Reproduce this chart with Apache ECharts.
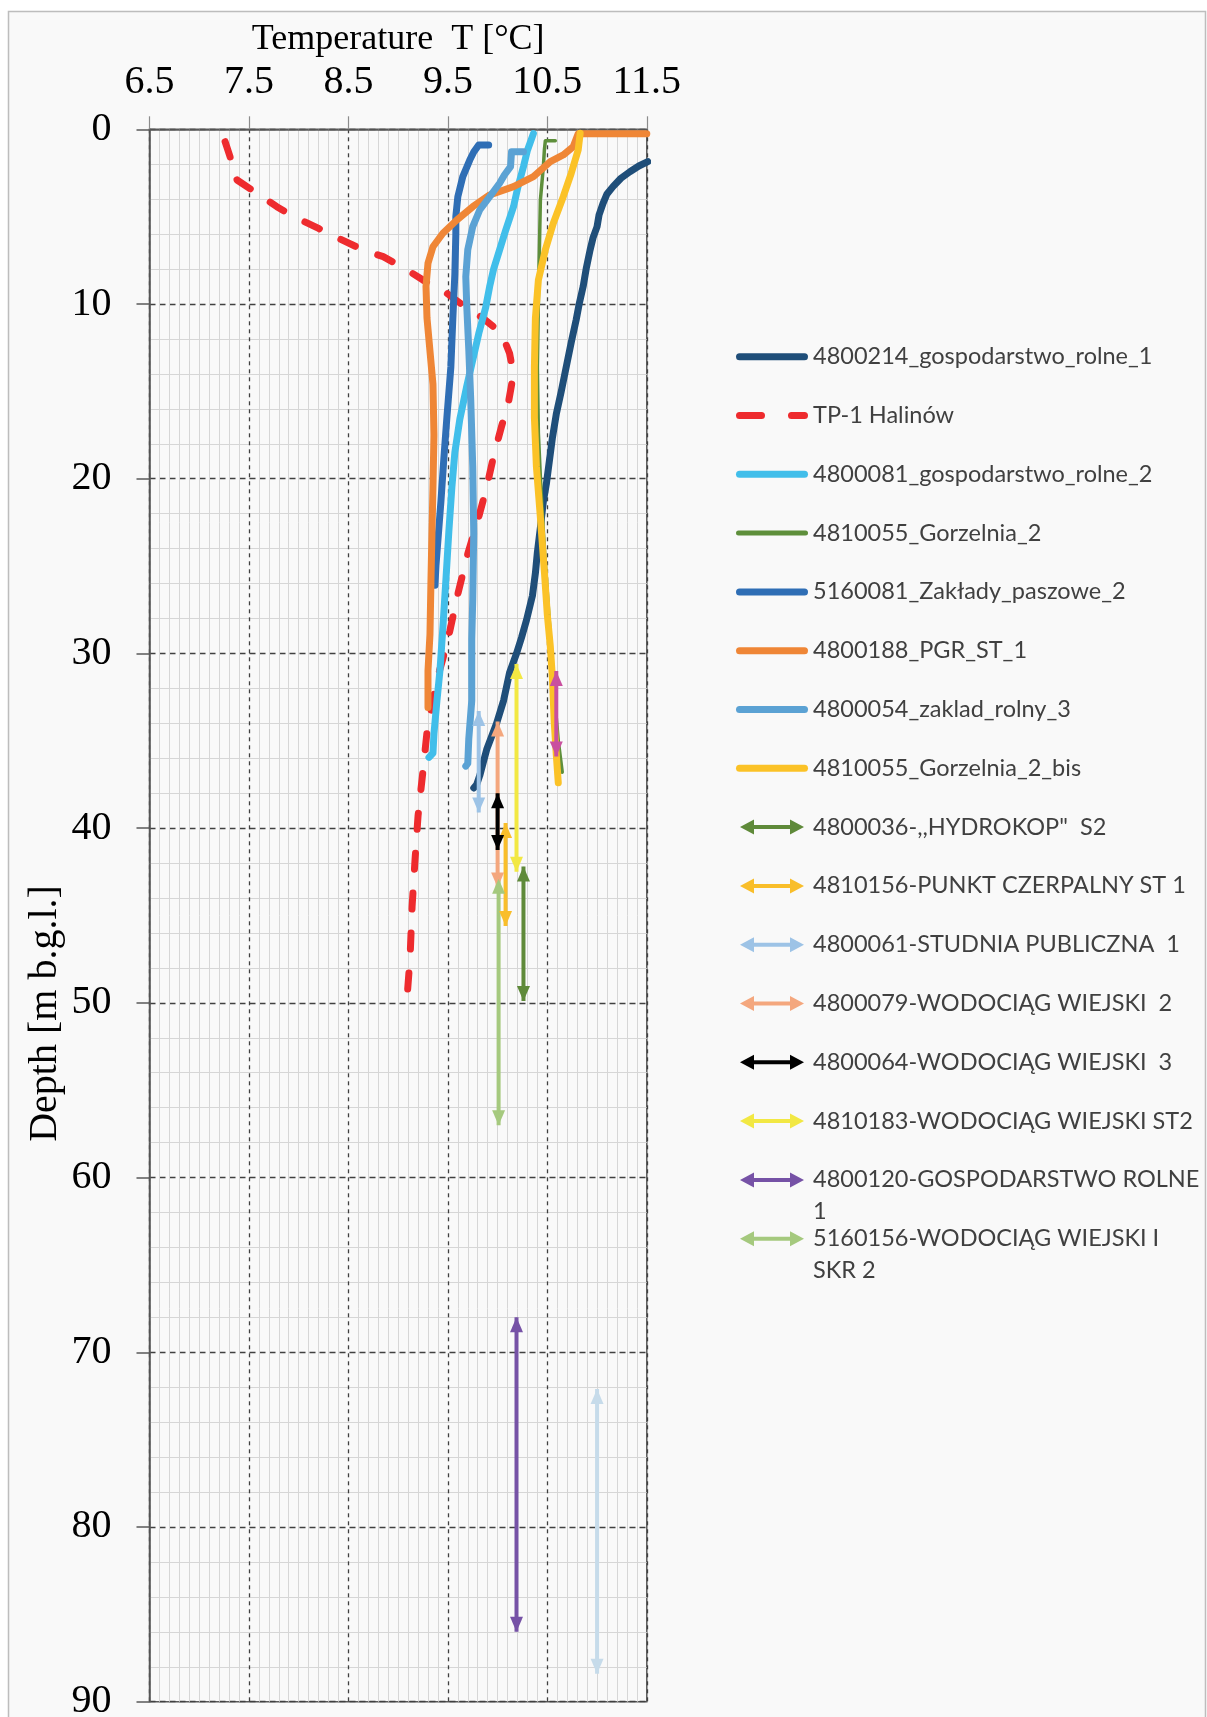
<!DOCTYPE html>
<html>
<head>
<meta charset="utf-8">
<script src="https://cdn.jsdelivr.net/npm/echarts@6/dist/echarts.min.js"></script>
<style>
  html, body { margin: 0; padding: 0; background: #ffffff; }
  #chart { width: 1207px; height: 1717px; }
</style>
</head>
<body>
<div id="chart"></div>
<script>
// ---- Temperature logs: [temperature °C, depth m b.g.l.] ----
const gospodarstwoRolne1 = [
  [11.51,1.85],[11.42,2.1],[11.33,2.43],[11.24,2.8],[11.16,3.28],[11.1,3.7],[11.06,4.24],[11.02,4.9],
  [11.0,5.57],[10.96,6.2],[10.93,6.9],[10.89,8.0],[10.86,9.0],[10.82,10.0],[10.79,10.9],[10.74,12.2],
  [10.69,13.6],[10.64,15.0],[10.59,16.3],[10.55,17.7],[10.52,19.0],[10.49,20.3],[10.46,21.3],[10.43,22.8],
  [10.40,24.2],[10.38,25.4],[10.35,26.7],[10.29,28.1],[10.24,29.1],[10.19,30.0],[10.12,31.1],[10.06,32.7],
  [9.99,34.0],[9.89,35.5],[9.82,37.0],[9.79,37.5],[9.76,37.7]
];
const halinowTP1 = [
  [7.26,0.71],[7.31,1.57],[7.38,2.9],[7.53,3.47],[7.78,4.43],[7.95,5.0],[8.2,5.67],[8.4,6.24],[8.65,6.91],
  [8.85,7.29],[9.09,8.05],[9.25,8.63],[9.49,9.39],[9.65,10.06],[9.85,10.8],[10.04,11.68],[10.12,12.82],
  [10.16,14.0],[10.11,15.6],[10.04,17.0],[9.96,18.7],[9.89,20.5],[9.8,22.4],[9.7,24.3],[9.6,26.6],
  [9.52,28.7],[9.45,30.3],[9.39,31.5],[9.34,33.0],[9.29,34.5],[9.25,36.7],[9.2,39.3],[9.17,41.8],
  [9.14,44.5],[9.12,47.4],[9.08,50.4]
];
const gospodarstwoRolne2 = [
  [10.36,0.25],[10.3,1.2],[10.26,2.14],[10.2,3.4],[10.16,4.43],[10.08,5.8],[10.02,6.9],[9.96,8.0],
  [9.92,9.0],[9.88,10.2],[9.81,11.7],[9.75,13.2],[9.69,14.7],[9.62,16.6],[9.57,18.5],[9.54,20.5],
  [9.51,23.0],[9.48,25.8],[9.45,28.5],[9.42,31.0],[9.39,32.7],[9.36,34.6],[9.35,35.7],[9.31,35.95]
];
const gorzelnia2 = [
  [10.58,0.65],[10.48,0.65],[10.47,1.2],[10.46,2.14],[10.43,4.05],[10.42,6.9],[10.41,9.8],[10.40,13.6],
  [10.41,17.4],[10.43,19.9],[10.45,22.0],[10.47,24.0],[10.50,26.5],[10.53,29.0],[10.55,30.8],
  [10.58,33.0],[10.61,35.0],[10.65,36.8]
];
const zakladyPaszowe2 = [
  [9.91,0.9],[9.81,0.9],[9.76,1.3],[9.72,1.76],[9.65,2.71],[9.6,3.86],[9.58,5.0],[9.58,6.0],[9.57,8.3],
  [9.55,10.8],[9.53,13.6],[9.49,16.5],[9.46,18.8],[9.43,21.3],[9.40,23.5],[9.38,25.0],[9.37,26.1]
];
const pgrSt1 = [
  [11.5,0.25],[10.81,0.25],[10.76,1.0],[10.66,1.47],[10.53,1.85],[10.36,2.71],[10.16,3.28],[9.92,3.76],
  [9.75,4.43],[9.59,5.19],[9.45,5.95],[9.35,6.72],[9.30,7.67],[9.28,9.0],[9.29,10.8],[9.32,12.7],
  [9.35,14.6],[9.36,17.5],[9.35,20.5],[9.34,23.1],[9.33,25.8],[9.32,28.9],[9.30,31.0],[9.30,33.1]
];
const zakladRolny3 = [
  [10.26,1.28],[10.14,1.28],[10.13,2.14],[10.07,2.6],[10.02,3.09],[9.92,3.86],[9.82,4.62],[9.75,5.57],
  [9.70,6.9],[9.68,8.44],[9.69,10.15],[9.71,12.6],[9.73,15.5],[9.75,19.3],[9.76,23.1],[9.75,26.9],
  [9.74,29.2],[9.74,32.7],[9.71,34.9],[9.70,36.3],[9.68,36.45]
];
const gorzelnia2bis = [
  [10.83,0.23],[10.81,1.19],[10.74,2.52],[10.66,3.86],[10.56,5.38],[10.48,6.9],[10.41,8.63],[10.38,10.8],
  [10.37,13.6],[10.37,16.5],[10.39,19.3],[10.43,22.2],[10.47,25.3],[10.50,27.8],[10.53,29.6],
  [10.55,31.3],[10.57,34.0],[10.59,35.8],[10.61,37.4]
];

const profileNames = [
  '4800214_gospodarstwo_rolne_1', 'TP-1 Halinów', '4800081_gospodarstwo_rolne_2', '4810055_Gorzelnia_2',
  '5160081_Zakłady_paszowe_2', '4800188_PGR_ST_1', '4800054_zaklad_rolny_3', '4810055_Gorzelnia_2_bis'
];
const profileData = [
  gospodarstwoRolne1, halinowTP1, gospodarstwoRolne2, gorzelnia2,
  zakladyPaszowe2, pgrSt1, zakladRolny3, gorzelnia2bis
];

// ---- Single-temperature wells: screened depth interval [top, bottom] at one temperature ----
const intervalNames = [
  '4800036-,,HYDROKOP"  S2', '4810156-PUNKT CZERPALNY ST 1', '4800061-STUDNIA PUBLICZNA  1',
  '4800079-WODOCIĄG WIEJSKI  2', '4800064-WODOCIĄG WIEJSKI  3', '4810183-WODOCIĄG WIEJSKI ST2',
  '4800120-GOSPODARSTWO ROLNE 1', '5160156-WODOCIĄG WIEJSKI I SKR 2',
  'interval_a', 'interval_b'
];
const intervalTemps   = [10.26, 10.08, 9.81, 10.0, 10.0, 10.19, 10.19, 10.01, 10.59, 11.0];
const intervalTops    = [42.2, 39.7, 33.3, 33.9, 38.0, 30.6, 68.0, 42.9, 31.0, 72.1];
const intervalBottoms = [49.9, 45.6, 39.1, 43.4, 41.25, 42.5, 86.0, 57.0, 35.9, 88.4];
const intervalInLegend = [true, true, true, true, true, true, true, true, false, false];

// ---- Styling ----
const profileColors = ['#1F4E79', '#EE2B2E', '#41BEEA', '#5E8F3B', '#2F6EB5', '#EF8636', '#5BA2D4', '#FBC227'];
const profileWidths = [7, 7, 7, 3.5, 7, 7, 7, 7];
const intervalColors = ['#5F8A3A', '#F9BE2A', '#9DC3E6', '#F4A77E', '#000000', '#F2E843',
                        '#7652A6', '#A5C97E', '#C9509F', '#C6DBEA'];

const serif = 'Liberation Serif';
const legendFont = 'Lato';
const legendSize = 23.5;

const lineIcon  = 'path://M3.5,0L68.5,0A3.5,3.5,0,0,1,68.5,7L3.5,7A3.5,3.5,0,0,1,3.5,0Z';
const thinIcon  = 'path://M2.5,0L69.5,0A2.5,2.5,0,0,1,69.5,5L2.5,5A2.5,2.5,0,0,1,2.5,0Z';
const dashIcon  = 'path://M3.5,0L25.5,0A3.5,3.5,0,0,1,25.5,7L3.5,7A3.5,3.5,0,0,1,3.5,0Z' +
                  'M55.5,0L68.5,0A3.5,3.5,0,0,1,68.5,7L55.5,7A3.5,3.5,0,0,1,55.5,0Z';
const arrowIcon = 'path://M0,7.5L14,0L14,5.5L50,5.5L50,0L64,7.5L50,15L50,9.5L14,9.5L14,15Z';

// Long legend labels that wrap onto a second line
const wrapped = {
  '4800120-GOSPODARSTWO ROLNE 1': ['4800120-GOSPODARSTWO ROLNE', '1'],
  '5160156-WODOCIĄG WIEJSKI I SKR 2': ['5160156-WODOCIĄG WIEJSKI I', 'SKR 2']
};

const series = [];
const legendData = [];

profileNames.forEach((name, i) => {
  const dashed = i === 1;
  series.push({
    type: 'line', name: name, data: profileData[i],
    showSymbol: false, symbol: 'none', animation: false, silent: true,
    color: profileColors[i],
    lineStyle: {
      color: profileColors[i], width: profileWidths[i],
      type: dashed ? [16, 24] : 'solid', cap: 'round', join: 'round'
    },
    emphasis: { disabled: true }
  });
  legendData.push({
    name: name,
    icon: dashed ? dashIcon : (profileWidths[i] < 5 ? thinIcon : lineIcon),
    itemStyle: { color: profileColors[i], borderWidth: 0 }
  });
});

intervalNames.forEach((name, i) => {
  const c = intervalColors[i];
  series.push({
    type: 'line', name: name, animation: false, silent: true,
    color: c,
    symbol: 'triangle', symbolSize: [13, 15], showSymbol: true,
    itemStyle: { color: c, borderWidth: 0 },
    lineStyle: { color: c, width: 4 },
    emphasis: { disabled: true },
    data: [
      { value: [intervalTemps[i], intervalTops[i]], symbolOffset: [0, 7.5] },
      { value: [intervalTemps[i], intervalBottoms[i]], symbolRotate: 180, symbolOffset: [0, -7.5] }
    ]
  });
  if (intervalInLegend[i]) {
    legendData.push({ name: name, icon: arrowIcon, itemStyle: { color: c, borderWidth: 0 } });
  }
});

const legendTop = 356.7;
const legendStep = 58.8;
const rowH = 30;
const wrapGraphics = [];
legendData.forEach((d, k) => {
  if (wrapped[d.name]) {
    wrapGraphics.push({
      type: 'text', x: 813, y: legendTop + k * legendStep + 32, z: 10,
      style: {
        text: wrapped[d.name][1], fill: '#404040',
        font: legendSize + 'px ' + legendFont, textVerticalAlign: 'middle', textAlign: 'left'
      }
    });
  }
});

const option = {
  backgroundColor: '#ffffff',
  animation: false,
  graphic: [
    {
      type: 'rect', z: -10, silent: true,
      shape: { x: 8.5, y: 11.5, width: 1197, height: 1730 },
      style: { fill: '#f9f9f9', stroke: '#bdbdbd', lineWidth: 1.5 }
    }
  ].concat(wrapGraphics),
  grid: {
    left: 149.5, top: 129.3, width: 497.3, height: 1572.4,
    show: true, backgroundColor: 'transparent', borderColor: '#595959', borderWidth: 1.5,
    containLabel: false, outerBoundsMode: 'none'
  },
  legend: {
    orient: 'vertical', left: 736, top: legendTop - rowH / 2, padding: 0,
    itemGap: legendStep - rowH, itemWidth: 72, itemHeight: 15,
    symbolKeepAspect: true, selectedMode: false,
    textStyle: { fontFamily: legendFont, fontSize: legendSize, color: '#404040', lineHeight: rowH },
    formatter: name => (wrapped[name] ? wrapped[name][0] : name),
    data: legendData
  },
  xAxis: {
    type: 'value', position: 'top', min: 6.5, max: 11.5, interval: 1,
    name: 'Temperature  T [°C]', nameLocation: 'middle', nameGap: 60,
    nameTextStyle: { fontFamily: serif, fontSize: 36, color: '#000' },
    axisLine: { show: true, onZero: false, lineStyle: { color: '#595959', width: 1.5 } },
    axisTick: { show: true, length: 13, lineStyle: { color: '#8c8c8c', width: 1.2 } },
    axisLabel: { fontFamily: serif, fontSize: 40, color: '#000', margin: 27 },
    splitLine: { show: true, lineStyle: { color: '#404040', width: 1.3, type: [4, 4] } },
    minorTick: { show: false, splitNumber: 10 },
    minorSplitLine: { show: true, lineStyle: { color: '#d6d6d6', width: 1 } }
  },
  yAxis: {
    type: 'value', inverse: true, min: 0, max: 90, interval: 10,
    name: 'Depth [m b.g.l.]', nameLocation: 'middle', nameRotate: 90, nameGap: 84,
    nameTextStyle: { fontFamily: serif, fontSize: 40, color: '#000', padding: [0, 196, 0, 0] },
    axisLine: { show: true, onZero: false, lineStyle: { color: '#595959', width: 1.5 } },
    axisTick: { show: true, length: 13, lineStyle: { color: '#595959', width: 1.5 } },
    axisLabel: { fontFamily: serif, fontSize: 40, color: '#000', margin: 38 },
    splitLine: { show: true, lineStyle: { color: '#404040', width: 1.3, type: [6, 4] } },
    minorTick: { show: false, splitNumber: 5 },
    minorSplitLine: { show: true, lineStyle: { color: '#d6d6d6', width: 1 } }
  },
  series: series
};

const chart = echarts.init(document.getElementById('chart'));
chart.setOption(option);
</script>
</body>
</html>
